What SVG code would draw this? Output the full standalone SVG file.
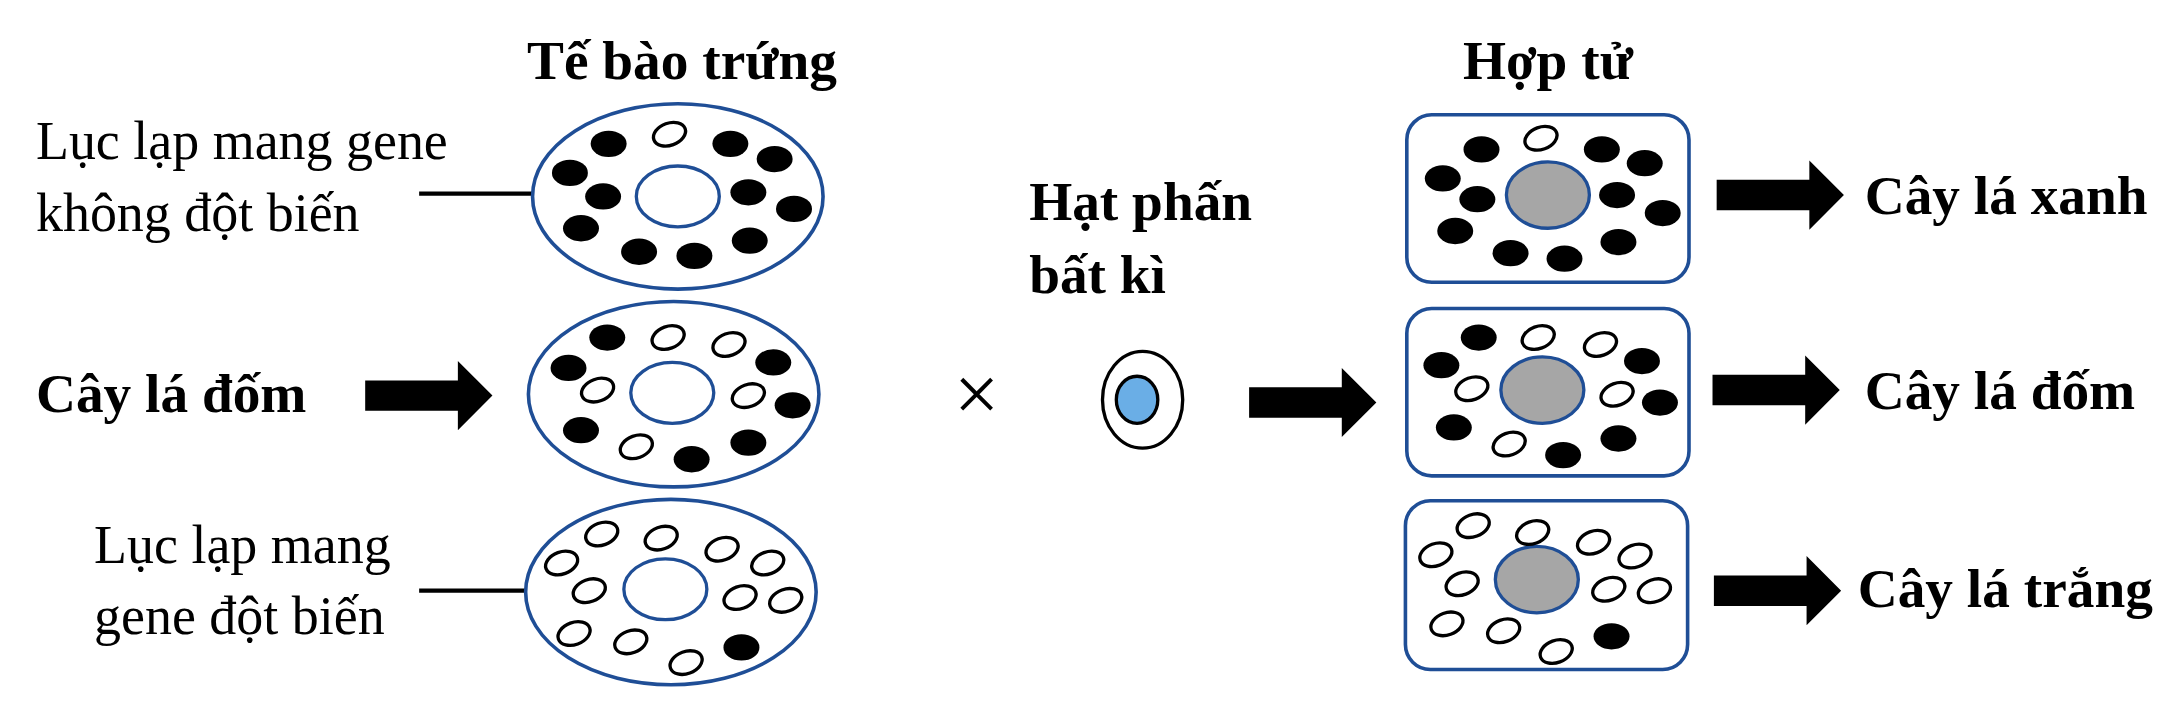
<svg xmlns="http://www.w3.org/2000/svg" width="2169" height="725" viewBox="0 0 2169 725">
<style>
text{font-family:"Liberation Serif","Times New Roman",serif;fill:#000}
.b{font-weight:bold;font-size:40px}
.r{font-size:39px}
.cell{fill:#fff;stroke:#1f4e96;stroke-width:2.6}
.nuc{fill:#fff;stroke:#1f4e96;stroke-width:2.4}
.znuc{fill:#a6a6a6;stroke:#1f4e96;stroke-width:2.4}
.k{fill:#000}
.w{fill:#fff;stroke:#000;stroke-width:2.4}
</style>
<defs>
<ellipse id="B" rx="13" ry="9.5" class="k"/>
<ellipse id="W" rx="12" ry="8" class="w" transform="rotate(-20)"/>
<polygon id="arr" points="0,-11 67,-11 67,-25 92,0 67,25 67,11 0,11" fill="#000"/>
</defs>
<rect width="2169" height="725" fill="#fff"/>
<g transform="scale(1.38329)">
<g id="labels">
<text class="b" x="493" y="57" text-anchor="middle">Tế bào trứng</text>
<text class="b" x="1119" y="57" text-anchor="middle">Hợp tử</text>
<text class="r" x="26" y="115">Lục lạp mang gene</text>
<text class="r" x="26" y="167">không đột biến</text>
<text class="r" x="68" y="407">Lục lạp mang</text>
<text class="r" x="68" y="458">gene đột biến</text>
<text class="b" x="26" y="298">Cây lá đốm</text>
<text class="b" x="744" y="159">Hạt phấn</text>
<text class="b" x="744" y="212">bất kì</text>
<text class="b" x="1348" y="155">Cây lá xanh</text>
<text class="b" x="1348" y="296">Cây lá đốm</text>
<text class="b" x="1343" y="439">Cây lá trắng</text>
<text x="706" y="304" font-size="58" text-anchor="middle" font-family="Liberation Sans,sans-serif">×</text>
</g>
<g id="connectors">
<line x1="303" y1="140" x2="432" y2="140" stroke="#000" stroke-width="3"/>
<line x1="303" y1="427" x2="425" y2="427" stroke="#000" stroke-width="3"/>
<use href="#arr" x="264" y="286"/>
<use href="#arr" x="903" y="291"/>
<use href="#arr" x="1241" y="141"/>
<use href="#arr" x="1238" y="282"/>
<use href="#arr" x="1239" y="427"/>
</g>
<g id="egg1">
<ellipse class="cell" cx="490" cy="142" rx="105" ry="67"/>
<ellipse class="nuc" cx="490" cy="142" rx="30" ry="22"/>
<use href="#B" x="440" y="104"/><use href="#W" x="484" y="97"/><use href="#B" x="528" y="104"/><use href="#B" x="560" y="115"/>
<use href="#B" x="412" y="125"/><use href="#B" x="436" y="142"/><use href="#B" x="541" y="139"/><use href="#B" x="574" y="151"/>
<use href="#B" x="420" y="165"/><use href="#B" x="462" y="182"/><use href="#B" x="502" y="185"/><use href="#B" x="542" y="174"/>
</g>
<g id="egg2">
<ellipse class="cell" cx="487" cy="285" rx="105" ry="67"/>
<ellipse class="nuc" cx="486" cy="284" rx="30" ry="22"/>
<use href="#B" x="439" y="244"/><use href="#W" x="483" y="244"/><use href="#W" x="527" y="249"/><use href="#B" x="559" y="262"/>
<use href="#B" x="411" y="266"/><use href="#W" x="432" y="282"/><use href="#W" x="541" y="286"/><use href="#B" x="573" y="293"/>
<use href="#B" x="420" y="311"/><use href="#W" x="460" y="323"/><use href="#B" x="500" y="332"/><use href="#B" x="541" y="320"/>
</g>
<g id="egg3">
<ellipse class="cell" cx="485" cy="428" rx="105" ry="67"/>
<ellipse class="nuc" cx="481" cy="426" rx="30" ry="22"/>
<use href="#W" x="435" y="386"/><use href="#W" x="478" y="389"/><use href="#W" x="522" y="397"/><use href="#W" x="555" y="407"/>
<use href="#W" x="406" y="407"/><use href="#W" x="426" y="427"/><use href="#W" x="535" y="432"/><use href="#W" x="568" y="434"/>
<use href="#W" x="415" y="458"/><use href="#W" x="456" y="464"/><use href="#B" x="536" y="468"/><use href="#W" x="496" y="479"/>
</g>
<g id="pollen">
<ellipse cx="826" cy="289" rx="29" ry="35" fill="#fff" stroke="#000" stroke-width="2.4"/>
<ellipse cx="822" cy="289" rx="15" ry="17" fill="#6aaee6" stroke="#000" stroke-width="2.4"/>
</g>
<g id="zygote1">
<rect class="cell" x="1017" y="83" width="204" height="121" rx="18"/>
<ellipse class="znuc" cx="1119" cy="141" rx="30" ry="24"/>
<use href="#B" x="1071" y="108"/><use href="#W" x="1114" y="100"/><use href="#B" x="1158" y="108"/><use href="#B" x="1189" y="118"/>
<use href="#B" x="1043" y="129"/><use href="#B" x="1068" y="144"/><use href="#B" x="1169" y="141"/><use href="#B" x="1202" y="154"/>
<use href="#B" x="1052" y="167"/><use href="#B" x="1092" y="183"/><use href="#B" x="1131" y="187"/><use href="#B" x="1170" y="175"/>
</g>
<g id="zygote2">
<rect class="cell" x="1017" y="223" width="204" height="121" rx="18"/>
<ellipse class="znuc" cx="1115" cy="282" rx="30" ry="24"/>
<use href="#B" x="1069" y="244"/><use href="#W" x="1112" y="244"/><use href="#W" x="1157" y="249"/><use href="#B" x="1187" y="261"/>
<use href="#B" x="1042" y="264"/><use href="#W" x="1064" y="281"/><use href="#W" x="1169" y="285"/><use href="#B" x="1200" y="291"/>
<use href="#B" x="1051" y="309"/><use href="#W" x="1091" y="321"/><use href="#B" x="1130" y="329"/><use href="#B" x="1170" y="317"/>
</g>
<g id="zygote3">
<rect class="cell" x="1016" y="362" width="204" height="122" rx="18"/>
<ellipse class="znuc" cx="1111" cy="419" rx="30" ry="24"/>
<use href="#W" x="1065" y="380"/><use href="#W" x="1108" y="385"/><use href="#W" x="1152" y="392"/><use href="#W" x="1182" y="402"/>
<use href="#W" x="1038" y="401"/><use href="#W" x="1057" y="422"/><use href="#W" x="1163" y="426"/><use href="#W" x="1196" y="427"/>
<use href="#W" x="1046" y="451"/><use href="#W" x="1087" y="456"/><use href="#B" x="1165" y="460"/><use href="#W" x="1125" y="471"/>
</g>
</g>
</svg>
